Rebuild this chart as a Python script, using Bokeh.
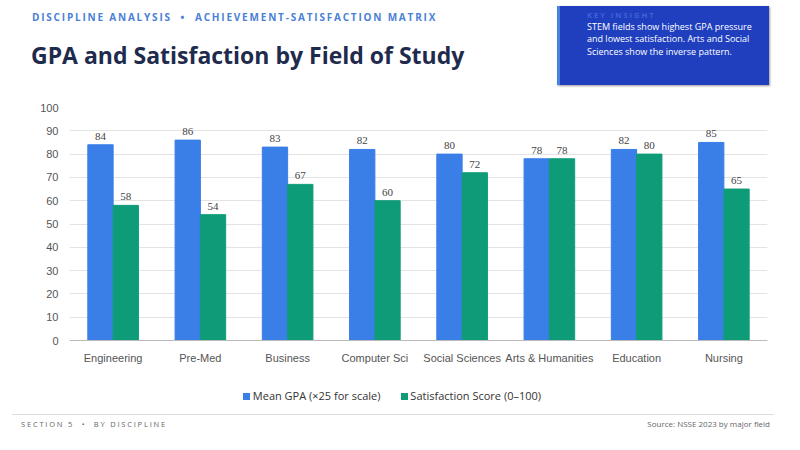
from bokeh.plotting import figure
from bokeh.models import ColumnDataSource, Div, LabelSet, FactorRange
from bokeh.layouts import column
from bokeh.transform import dodge
from bokeh.embed import file_html
from bokeh.resources import INLINE

fields = ["Engineering", "Pre-Med", "Business", "Computer Sci", "Social Sciences", "Arts & Humanities", "Education", "Nursing"]
gpa = [84, 86, 83, 82, 80, 78, 82, 85]
sat = [58, 54, 67, 60, 72, 78, 80, 65]
yticks = list(range(0, 101, 10))
series_names = ["Mean GPA (×25 for scale)", "Satisfaction Score (0–100)"]
series_colors = ["#3a7ee8", "#0e9c78"]

src = ColumnDataSource(dict(f=fields, gpa=gpa, sat=sat, gl=[str(v) for v in gpa], sl=[str(v) for v in sat]))

header = Div(text="""
<div style="position:relative;width:784px;height:100px;font-family:'Open Sans';">
 <div style="position:absolute;left:32px;top:10px;font-size:10px;font-weight:700;letter-spacing:1.8px;color:#4a80d6;">DISCIPLINE ANALYSIS &nbsp;&bull;&nbsp; ACHIEVEMENT-SATISFACTION MATRIX</div>
 <div style="position:absolute;left:31px;top:39px;font-size:23px;font-weight:700;color:#1f2b4d;">GPA and Satisfaction by Field of Study</div>
 <div style="position:absolute;left:557px;top:6px;width:212px;height:79px;background:#1f3fbf;border-left:3px solid #4a80e0;box-shadow:1px 1px 2px #999;">
  <div style="margin:4px 0 0 27px;font-size:7.5px;letter-spacing:2px;color:#3f63d8;font-weight:700;">KEY INSIGHT</div>
  <div style="margin:0 10px 0 27px;font-size:9px;line-height:12.5px;color:#ffffff;">STEM fields show highest GPA pressure and lowest satisfaction. Arts and Social Sciences show the inverse pattern.</div>
 </div>
</div>""", width=784, height=100, margin=0)

p = figure(x_range=FactorRange(*fields), y_range=(0, 100), width=784, height=280,
           output_backend="svg", toolbar_location=None, margin=0,
           min_border_left=69, min_border_right=17, min_border_top=7, min_border_bottom=40)
p.outline_line_color = None
p.vbar(x=dodge("f", -0.145, range=p.x_range), top="gpa", width=0.29, source=src, color=series_colors[0])
p.vbar(x=dodge("f", 0.145, range=p.x_range), top="sat", width=0.29, source=src, color=series_colors[1])
for col, lab, dx in (("gpa", "gl", -0.145), ("sat", "sl", 0.145)):
    p.add_layout(LabelSet(x=dodge("f", dx, range=p.x_range), y=col, text=lab, source=src,
                          text_align="center", y_offset=5, text_font_size="11px",
                          text_color="#444444", text_font="Liberation Sans"))
p.yaxis.ticker = yticks
p.ygrid.grid_line_color = "#e3e3e3"
p.xgrid.grid_line_color = None
for ax in (p.xaxis, p.yaxis):
    ax.major_label_text_font = "Liberation Sans"
    ax.major_label_text_font_size = "11px"
    ax.major_label_text_color = "#555555"
    ax.axis_line_color = "#bbbbbb"
    ax.minor_tick_line_color = None
p.xaxis.major_label_overrides = {"Arts & Humanities": "Arts &\nHumanities"}
p.yaxis.axis_line_color = None
p.yaxis.major_tick_line_color = None
p.xaxis.major_tick_line_color = None

legend = Div(text="""
<div style="width:784px;height:32px;font-family:'Open Sans';font-size:11px;color:#333;text-align:center;padding-top:8px;">
 <span style="display:inline-block;width:7px;height:7px;background:%s;"></span> %s
 &nbsp;&nbsp;&nbsp;&nbsp;&nbsp;
 <span style="display:inline-block;width:7px;height:7px;background:%s;"></span> %s
</div>""" % (series_colors[0], series_names[0], series_colors[1], series_names[1]), width=784, height=32, margin=0)

footer = Div(text="""
<div style="position:relative;width:784px;height:22px;font-family:'Open Sans';">
 <div style="position:absolute;left:12px;right:10px;top:2px;border-top:1px solid #dddddd;"></div>
 <div style="position:absolute;left:21px;top:7px;font-size:7.5px;letter-spacing:1.8px;color:#666;">SECTION 5 &nbsp;&bull;&nbsp; BY DISCIPLINE</div>
 <div style="position:absolute;right:14px;top:6px;font-size:8px;color:#666;">Source: NSSE 2023 by major field</div>
</div>""", width=784, height=22, margin=0)

layout = column(header, p, legend, footer, spacing=0)
open("out.html", "w").write(file_html(layout, INLINE))
